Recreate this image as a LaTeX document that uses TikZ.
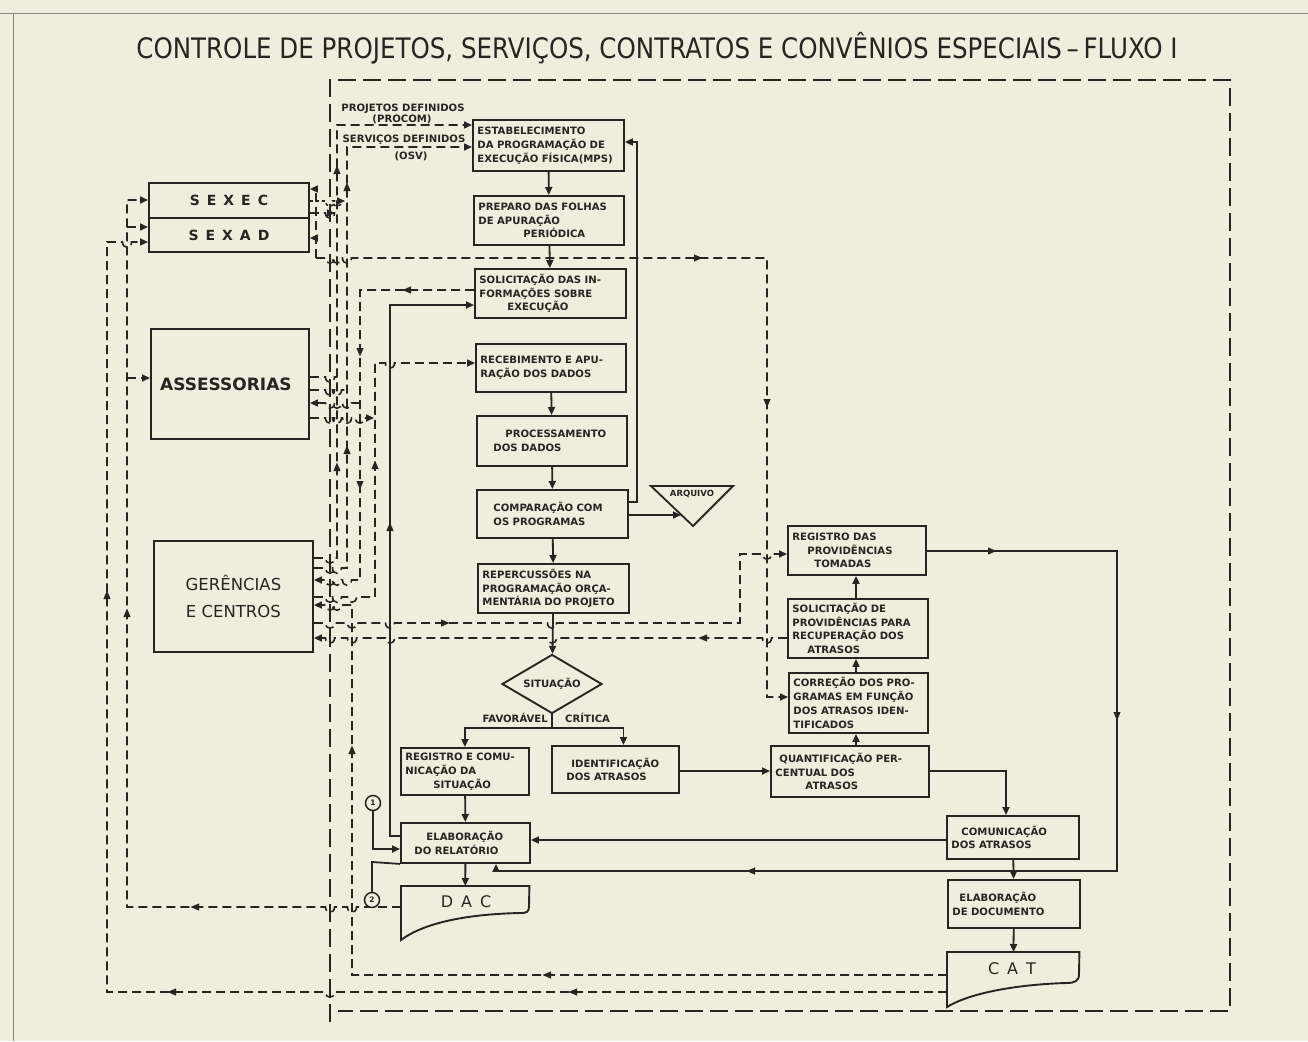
\documentclass[tikz,border=0pt]{standalone}
\usepackage{fontspec}
\usetikzlibrary{arrows.meta,shapes.geometric}
\newfontfamily\djv{DejaVu Sans}
\newfontfamily\djvt{DejaVu Sans}[FakeStretch=0.87]
\definecolor{paper}{RGB}{242,236,222}
\definecolor{ink}{RGB}{40,36,33}
\newcommand\bxfont{\djv\bfseries\fontsize{10.1}{13.8}\selectfont}
% filled arrowhead in the middle of a line: x, y, direction (degrees on the page)
\newcommand\marr[3]{\fill[ink,shift={(#1,#2)},rotate=#3] (4.5pt,0pt) -- (-4pt,3.6pt) -- (-4pt,-3.6pt) -- cycle;}
% small jump of a horizontal line over a vertical one (rightwards / leftwards)
\newcommand\hopR[2]{-- (#1-4.5,#2) .. controls (#1-4.5,#2+7) and (#1+4.5,#2+7) .. (#1+4.5,#2)}
\newcommand\hopL[2]{-- (#1+4.5,#2) .. controls (#1+4.5,#2+7) and (#1-4.5,#2+7) .. (#1-4.5,#2)}
% process box: name, left, top, right, bottom, text
\newcommand\bx[6]{%
  \pgfmathsetmacro\bxh{#5-#3}%
  \pgfmathsetmacro\bxw{#4-#2-9}%
  \node[flowbox, anchor=north west, minimum height=\bxh pt, text width=\bxw pt] (#1) at (#2,#3) {#6};}
\tikzset{
  solidln/.style={draw=ink, line width=1.8pt},
  dashln/.style={draw=ink, line width=1.6pt, dash pattern=on 9pt off 5pt},
  dotln/.style={draw=ink, line width=1.6pt, dash pattern=on 3pt off 3pt},
  frameln/.style={draw=ink, line width=1.6pt, dash pattern=on 18pt off 7pt},
  endtip/.style={-{Triangle[length=8pt,width=7pt]}},
  flowbox/.style={draw=ink, line width=1.9pt, fill=paper, text=ink, font=\bxfont, align=left, inner xsep=4.5pt, inner ysep=2pt},
  bigbox/.style={draw=ink, line width=1.9pt, fill=paper, text=ink, inner sep=0pt, align=center, anchor=north west},
  lbl/.style={text=ink, font=\bxfont, inner sep=0pt},
  numcirc/.style={circle, draw=ink, line width=1.5pt, fill=paper, inner sep=0pt, minimum size=15pt, text=ink, font=\djv\bfseries\fontsize{7.5}{8}\selectfont},
}
\begin{document}
\begin{tikzpicture}[x=1pt,y=-1pt]
\fill[paper] (0,0) rectangle (1308,1041);
\useasboundingbox (0,0) rectangle (1308,1041);
% sheet edges
\draw[ink!55, line width=0.9pt] (0,13) -- (1308,13) (13,13) -- (13,1041);

% title
\node[text=ink, font=\djvt\fontsize{28.2}{28.2}\selectfont] (title) at (657,48)
  {CONTROLE DE PROJETOS, SERVIÇOS, CONTRATOS E CONVÊNIOS ESPECIAIS\,–\,FLUXO I};

% dashed boundary of the area
\draw[frameln] (330,1022) -- (330,80) -- (1230,80) -- (1230,1011) -- (338,1011);

% ---------------- units on the left
\node[bigbox, minimum width=160pt, minimum height=35pt, font=\djv\bfseries\fontsize{14}{14}\selectfont] (sexec) at (148,182) {S\hspace{7pt}E\hspace{7pt}X\hspace{7pt}E\hspace{7pt}C};
\node[bigbox, minimum width=160pt, minimum height=34pt, font=\djv\bfseries\fontsize{14}{14}\selectfont] (sexad) at (148,217) {S\hspace{7pt}E\hspace{7pt}X\hspace{7pt}A\hspace{7pt}D};
\node[bigbox, minimum width=158pt, minimum height=110pt, font=\djv\bfseries\fontsize{17}{17}\selectfont] (ass) at (150,328) {ASSESSORIAS\hspace*{8pt}};
\node[bigbox, minimum width=159pt, minimum height=111pt, font=\djv\fontsize{16.5}{27}\selectfont] (ger) at (153,540) {GERÊNCIAS\\E CENTROS};

% ---------------- main column
\bx{estab}{472}{119}{623}{170}{ESTABELECIMENTO\\DA PROGRAMAÇÃO DE\\EXECUÇÃO FÍSICA(MPS)}
\bx{prep}{473}{195}{623}{244}{PREPARO DAS FOLHAS\\DE APURAÇÃO\\\hspace*{45pt}PERIÓDICA}
\bx{solinf}{474}{268}{625}{317}{SOLICITAÇÃO DAS IN-\\FORMAÇÕES SOBRE\\\hspace*{28pt}EXECUÇÃO}
\bx{receb}{475}{343}{625}{391}{RECEBIMENTO E APU-\\RAÇÃO DOS DADOS}
\bx{proc}{476}{415}{626}{465}{\hspace*{24pt}PROCESSAMENTO\\\hspace*{12pt}DOS DADOS}
\bx{comp}{476}{489}{627}{537}{\hspace*{12pt}COMPARAÇÃO COM\\\hspace*{12pt}OS PROGRAMAS}
\bx{reperc}{477}{563}{628}{612}{REPERCUSSÕES NA\\PROGRAMAÇÃO ORÇA-\\MENTÁRIA DO PROJETO}
\node[diamond, aspect=1.7, draw=ink, line width=1.9pt, fill=paper, inner sep=0pt,
      minimum width=100pt, minimum height=59pt, font=\bxfont, text=ink] (sit) at (552,684) {SITUAÇÃO};
\node[lbl, anchor=east] (fav) at (548,718) {FAVORÁVEL};
\node[lbl, anchor=west] (cri) at (565,718) {CRÍTICA};
\bx{regcom}{400}{747}{528}{794}{REGISTRO E COMU-\\NICAÇÃO DA\\\hspace*{28pt}SITUAÇÃO}
\bx{ident}{551}{745}{678}{792}{\hspace*{15pt}IDENTIFICAÇÃO\\\hspace*{10pt}DOS ATRASOS}
\bx{elab}{400}{822}{529}{862}{\hspace*{21pt}ELABORAÇÃO\\\hspace*{9pt}DO RELATÓRIO}

% archive symbol
\coordinate (arqA) at (651,486);
\coordinate (arqB) at (733,486);
\coordinate (arqC) at (693,526);
\coordinate (arqIn) at (681,515);
\draw[solidln, fill=paper] (arqA) -- (arqB) -- (arqC) -- cycle;
\node[lbl, font=\djv\bfseries\fontsize{8.5}{9}\selectfont] (arq) at (692,494) {ARQUIVO};

% DAC document
\node[inner sep=0pt, minimum width=128pt, minimum height=54pt, anchor=north west] (dac) at (401,886) {};
\draw[solidln, line width=1.9pt, fill=paper] (dac.north west) -- (dac.north east) -- (529,906)
  .. controls (529,912) and (527,913) .. (520,913) .. controls (470,914) and (425,922) .. (401,940) -- cycle;
\node[text=ink, font=\djv\fontsize{16}{16}\selectfont] (dactxt) at (466,902) {D\hspace{8pt}A\hspace{8pt}C};

% ---------------- right column
\bx{regprov}{787}{525}{925}{574}{REGISTRO DAS\\\hspace*{15pt}PROVIDÊNCIAS\\\hspace*{22pt}TOMADAS}
\bx{solprov}{787}{598}{927}{657}{SOLICITAÇÃO DE\\PROVIDÊNCIAS PARA\\RECUPERAÇÃO DOS\\\hspace*{15pt}ATRASOS}
\bx{correc}{788}{672}{927}{732}{CORREÇÃO DOS PRO-\\GRAMAS EM FUNÇÃO\\DOS ATRASOS IDEN-\\TIFICADOS}
\bx{quant}{770}{745}{928}{796}{\hspace*{4pt}QUANTIFICAÇÃO PER-\\CENTUAL DOS\\\hspace*{30pt}ATRASOS}
\bx{comun}{946}{815}{1078}{858}{\hspace*{10pt}COMUNICAÇÃO\\DOS ATRASOS}
\bx{elabdoc}{947}{879}{1079}{927}{\hspace*{7pt}ELABORAÇÃO\\DE DOCUMENTO}

% CAT document
\node[inner sep=0pt, minimum width=132pt, minimum height=54pt, anchor=north west] (cat) at (947,952) {};
\draw[solidln, line width=1.9pt, fill=paper] (cat.north west) -- (cat.north east) -- (1079,974)
  .. controls (1079,981) and (1075,983) .. (1066,983) .. controls (1030,984) and (975,990) .. (947,1007) -- cycle;
\node[text=ink, font=\djv\fontsize{16}{16}\selectfont] (cattxt) at (1012,969) {C\hspace{8pt}A\hspace{8pt}T};

% labels of the inputs
\node[lbl] (pdef) at (403,109) {PROJETOS DEFINIDOS};
\node[lbl] (pcom) at (402,119) {(PROCOM)};
\node[lbl] (sdef) at (404,140) {SERVIÇOS DEFINIDOS};
\node[lbl] (osv) at (411,156) {(OSV)};

% ---------------- main flow (solid)
\draw[solidln, endtip] (estab) -- (prep);
\draw[solidln, endtip] (prep) -- (solinf);
\draw[solidln, endtip] (receb) -- (proc);
\draw[solidln, endtip] (proc) -- (comp);
\draw[solidln, endtip] (comp) -- (reperc);
\draw[solidln, endtip] (reperc) -- (sit);
\draw[solidln] (sit.south) -- (552,728);
\draw[solidln, endtip] (552,728) -| (regcom.north);
\draw[solidln, endtip] (552,728) -| ([xshift=8pt]ident.north);
\draw[solidln, endtip] (regcom) -- (elab);
\draw[solidln, endtip] (elab) -- (dac);
\draw[solidln, endtip] (comp.east |- 0,515) -- (arqIn);
\draw[solidln, endtip] (comp.east |- 0,502) -- (637,502) -- (637,142) -- (estab.east |- 0,142);

\coordinate (cx) at (856,0);
\draw[solidln, endtip] (cx |- quant.north) -- (cx |- correc.south);
\draw[solidln, endtip] (cx |- correc.north) -- (cx |- solprov.south);
\draw[solidln, endtip] (cx |- solprov.north) -- (cx |- regprov.south);
\draw[solidln, endtip] (ident.east |- 0,771) -- (quant.west |- 0,771);
\draw[solidln, endtip] (quant.east |- 0,771) -| (1006,0 |- comun.north);
\draw[solidln, endtip] (comun.west |- 0,840) -- (elab.east |- 0,840);
\draw[solidln, endtip] (comun) -- (elabdoc);
\draw[solidln, endtip] (elabdoc) -- (cat);
\draw[solidln, endtip] (regprov.east |- 0,551) -- (1117,551) -- (1117,871) -- (496,871) -- (496,0 |- elab.south);
\marr{992}{551}{0}
\marr{1117}{716}{270}
\marr{751}{871}{180}

% report requests from the information step back to the report
\draw[solidln, endtip] (elab.west |- 0,836) -- (390,836) -- (390,305) -- (solinf.west |- 0,305);
\marr{390}{527}{90}

% ---------------- information lines (dashed)
% defined projects (PROCOM)
\draw[dashln, endtip] (ger.east |- 0,558) \hopR{330}{558} -- (337,558) -- (337,125) -- (estab.west |- 0,125);
\draw[dashln] (ass.east |- 0,377) \hopR{330}{377} -- (337,377);
\draw[dashln, endtip] (sexec.east |- 0,213) \hopR{330}{213} -- (335,213);
\marr{337}{170}{90}
\marr{337}{467}{90}
% defined services (OSV)
\draw[dashln, endtip] (ger.east |- 0,568) \hopR{330}{568} \hopR{337}{568} -- (347,568) -- (347,147) -- (estab.west |- 0,147);
\draw[dashln] (ass.east |- 0,390) \hopR{330}{390} \hopR{337}{390} -- (347,390);
\draw[dotln, endtip] (sexec.east |- 0,201) \hopR{330}{201} \hopR{337}{201} -- (345,201);
\marr{347}{187}{90}
\marr{347}{450}{90}
% requests for information
\draw[dashln, endtip] (solinf.west |- 0,290) -- (360,290) -- (360,580) \hopL{347}{580} \hopL{337}{580} \hopL{330}{580} -- (ger.east |- 0,580);
\draw[dashln, endtip] (360,403) \hopL{347}{403} \hopL{337}{403} \hopL{330}{403} -- (ass.east |- 0,403);
\marr{407}{290}{180}
\marr{360}{352}{270}
\marr{360}{485}{270}
% received data
\draw[dashln, endtip] (ger.east |- 0,597) \hopR{330}{597} \hopR{337}{597} \hopR{352}{597} -- (375,597) -- (375,363) \hopR{390}{363} -- (receb.west |- 0,363);
\draw[dashln, endtip] (ass.east |- 0,418) \hopR{330}{418} \hopR{337}{418} \hopR{347}{418} \hopR{360}{418} -- (374,418);
\marr{375}{465}{90}
% corrections of the programmes
\draw[dashln, endtip] (316,258) \hopR{330}{258} \hopR{337}{258} \hopR{347}{258} -- (767,258) -- (767,697) -- (correc.west |- 0,697);
\draw[dashln, endtip] (316,258) -- (316,189) -- (sexec.east |- 0,189);
\draw[dashln, endtip] (316,238) -- (sexad.east |- 0,238);
\marr{698}{258}{0}
\marr{767}{403}{270}
% measures taken / recovery requests
\draw[dashln, endtip] (ger.east |- 0,623) \hopR{330}{623} \hopR{352}{623} \hopR{390}{623} \hopR{552}{623} -- (740,623) -- (740,554) \hopR{767}{554} -- (regprov.west |- 0,554);
\marr{445}{623}{0}
\draw[dashln, endtip] (solprov.west |- 0,638) \hopL{767}{638} \hopL{552}{638} \hopL{390}{638} \hopL{352}{638} \hopL{330}{638} -- (ger.east |- 0,638);
\marr{703}{638}{180}
% CAT distribution
\draw[dashln, endtip] (cat.west |- 0,975) -- (352,975) -- (352,605) \hopL{337}{605} \hopL{330}{605} -- (ger.east |- 0,605);
\marr{547}{975}{180}
\marr{352}{750}{90}
\draw[dashln, endtip] (cat.west |- 0,992) \hopL{330}{992} -- (107,992) -- (107,242) \hopR{127}{242} -- (sexad.west |- 0,242);
\marr{573}{992}{180}
\marr{172}{992}{180}
\marr{107}{595}{90}
% DAC distribution
\draw[dashln, endtip] (dac.west |- 0,907) \hopL{352}{907} \hopL{330}{907} -- (127,907) -- (127,200) -- (sexec.west |- 0,200);
\draw[dashln, endtip] (127,227) -- (sexad.west |- 0,227);
\draw[dashln, endtip] (127,378) -- (ass.west |- 0,378);
\marr{195}{907}{180}
\marr{127}{613}{90}

% connectors 1 and 2
\node[numcirc] (c1) at (373,803) {1};
\node[numcirc] (c2) at (372,900) {2};
\draw[solidln, endtip] (c1.south) -- (373,849) -- (elab.west |- 0,849);
\draw[solidln] (c2.north) -- (372,862) -- (elab.south west);
\end{tikzpicture}
\end{document}
